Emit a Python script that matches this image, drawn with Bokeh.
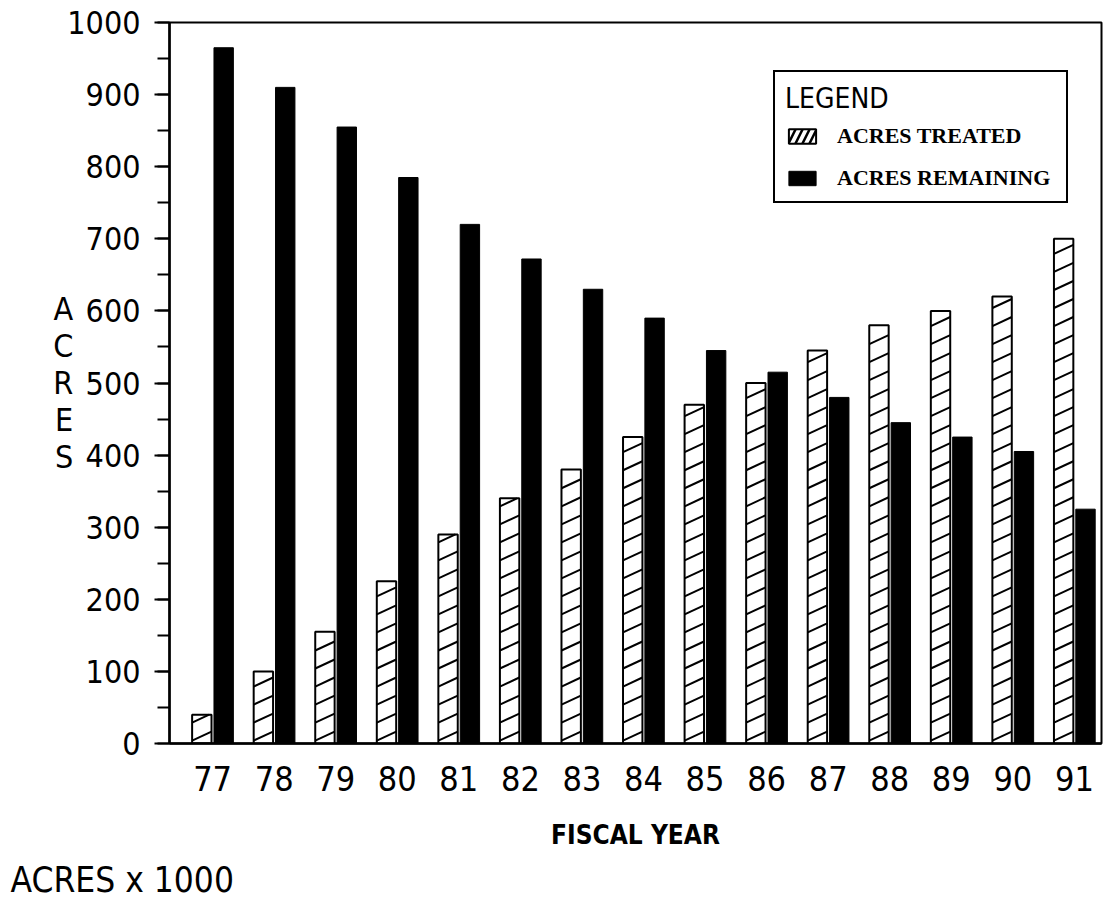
from bokeh.plotting import figure
from bokeh.models import Range1d, SingleIntervalTicker, FixedTicker, Legend, LegendItem, Title
from bokeh.embed import file_html
from bokeh.resources import INLINE

# ---- data ----
years = [77, 78, 79, 80, 81, 82, 83, 84, 85, 86, 87, 88, 89, 90, 91]
acres_treated = [40, 100, 155, 225, 290, 340, 380, 425, 470, 500, 545, 580, 600, 620, 700]
acres_remaining = [965, 910, 855, 785, 720, 672, 630, 590, 545, 515, 480, 445, 425, 405, 325]
series_names = ["ACRES TREATED", "ACRES REMAINING"]
x_title = "FISCAL YEAR"
y_title = "ACRES"
unit_note = "ACRES x 1000"

NARROW = "DejaVu Sans Condensed, Roboto Condensed, Roboto"
SERIF = "Liberation Serif"

W, H = 1119, 905
FL, FR, FT, FB = 169, 1101, 22, 744  # frame pixel edges
x0, x1 = 76.30, 91.44
y0, y1 = 0, 1000

p = figure(width=W, height=H, output_backend="svg", toolbar_location=None,
           x_range=Range1d(x0, x1), y_range=Range1d(y0, y1),
           min_border_left=FL, min_border_right=W - FR,
           min_border_top=FT, min_border_bottom=H - FB)
p.grid.visible = False
p.outline_line_color = "black"
p.outline_line_width = 2
p.outline_line_alpha = 1
p.background_fill_color = "white"
p.border_fill_color = "white"

t_off, r_off, bw = -0.175, 0.18, 0.315
tx = [y + t_off for y in years]
rx = [y + r_off for y in years]

treated = p.vbar(x=tx, top=acres_treated, bottom=0, width=bw, fill_color="white",
                 line_color="black", line_width=2)
remaining = p.vbar(x=rx, top=acres_remaining, bottom=0, width=bw, fill_color="black",
                   line_color="black", line_width=1)

# shallow diagonal hatching inside treated bars
step, rise = 25.0, 12.5
sx0, sy0, sx1, sy1 = [], [], [], []
for cx, v in zip(tx, acres_treated):
    left, right = cx - bw / 2, cx + bw / 2
    b = 4.0
    while b < v - 2:
        e = b + rise
        if e <= v:
            xe, ye = right, e
        else:
            xe, ye = left + (right - left) * (v - b) / rise, v
        sx0.append(left); sy0.append(b); sx1.append(xe); sy1.append(ye)
        b += step
p.segment(x0=sx0, y0=sy0, x1=sx1, y1=sy1, line_color="black", line_width=2)

# legend proxy for hatched swatch (zero-height, invisible in the plot)
proxy = p.vbar(x=[tx[0]], top=[0], bottom=[0], width=bw, fill_color="white", line_color="black",
               line_width=2, hatch_pattern="/", hatch_scale=14, hatch_weight=2.5,
               hatch_color="black")

legend = Legend(items=[LegendItem(label=series_names[0], renderers=[proxy], index=0),
                       LegendItem(label=series_names[1], renderers=[remaining], index=0)],
                location=(604, 540), title="LEGEND")
legend.title_text_font = NARROW
legend.title_text_font_size = "28px"
legend.title_text_font_style = "normal"
legend.title_text_color = "black"
legend.title_standoff = 8
legend.label_text_font = SERIF
legend.label_text_font_style = "bold"
legend.label_text_font_size = "22px"
legend.label_text_color = "black"
legend.glyph_width = 34
legend.glyph_height = 18
legend.label_height = 22
legend.label_width = 219
legend.spacing = 16
legend.padding = 10
legend.margin = 0
legend.label_standoff = 18
legend.border_line_color = "black"
legend.border_line_alpha = 1
legend.border_line_width = 2
legend.background_fill_alpha = 1
p.add_layout(legend)

# axes
ya = p.yaxis[0]
ya.ticker = SingleIntervalTicker(interval=100, num_minor_ticks=2)
ya.major_tick_out = 15
ya.major_tick_in = 0
ya.minor_tick_out = 12
ya.minor_tick_in = 0
ya.major_tick_line_width = 2
ya.minor_tick_line_width = 2
ya.axis_line_width = 2.5
ya.major_label_text_font = NARROW
ya.major_label_text_font_size = "32px"
ya.major_label_text_color = "black"
ya.major_label_standoff = 14
ya.axis_label = "\n".join(y_title)
ya.axis_label_text_font = NARROW
ya.axis_label_text_font_size = "32px"
ya.axis_label_text_font_style = "normal"
ya.axis_label_text_color = "black"
ya.axis_label_text_line_height = 0.98
ya.axis_label_standoff = -9
try:
    ya.axis_label_orientation = "horizontal"
except Exception:
    pass

xa = p.xaxis[0]
xa.ticker = FixedTicker(ticks=years)
xa.major_tick_out = 0
xa.major_tick_in = 0
xa.minor_tick_out = 0
xa.axis_line_width = 2.5
xa.major_label_text_font = NARROW
xa.major_label_text_font_size = "34px"
xa.major_label_text_color = "black"
xa.major_label_standoff = 22
xa.axis_label = x_title
xa.axis_label_text_font = NARROW
xa.axis_label_text_font_size = "26px"
xa.axis_label_text_font_style = "bold"
xa.axis_label_text_color = "black"
xa.axis_label_standoff = 26

note = Title(text=unit_note, align="left", offset=10 - FL, standoff=11,
             text_font=NARROW, text_font_size="35px", text_font_style="normal",
             text_color="black")
p.add_layout(note, "below")

open("out.html", "w").write(file_html(p, INLINE))
